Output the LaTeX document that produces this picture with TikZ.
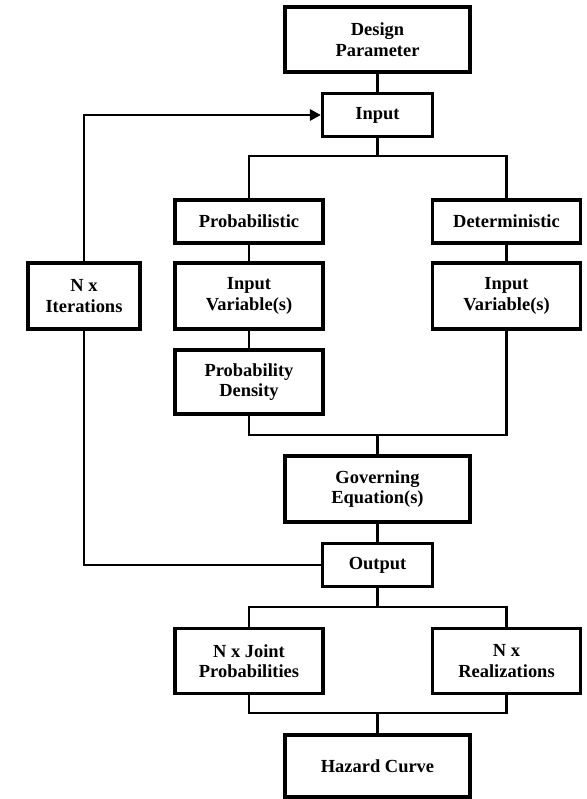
\documentclass[tikz,border=0pt]{standalone}
\usepackage{fontspec}
\setmainfont{Liberation Serif}
\usepackage{tikz}
\usetikzlibrary{arrows.meta}
\tikzset{
    every node/.style={align=center,font=\bfseries\fontsize{10.5}{11.7}\selectfont},
    block/.style={draw,rectangle,line width=1.8pt,inner sep=0pt,},
    big/.style={block,minimum width=3.7cm,minimum height=1.3cm,},
    mid/.style={block,minimum width=2.96cm,minimum height=1.3cm,},
    small/.style={block,minimum width=2.2cm,minimum height=0.87cm,},
    link/.style={line width=1.7pt,},
}

\begin{document}
\begin{tikzpicture}
                \useasboundingbox (0,0) rectangle (11.74,15.98);

                \node[big] (design) at (7.55, 15.19) {Design\\Parameter};
                \node[small] (input) at (7.55, 13.68) {Input};

                \node[mid, minimum height=0.86cm] (prob) at (4.98, 11.55) {Probabilistic};
                \node[mid, minimum height=0.86cm] (det) at (10.13, 11.55) {Deterministic};

                \node[small, minimum width=2.24cm, minimum height=1.32cm] (iter) at (1.68, 10.06) {N x\\Iterations};
                \node[mid, minimum height=1.32cm] (varprob) at (4.98, 10.06) {Input\\Variable(s)};
                \node[mid, minimum height=1.32cm] (vardet) at (10.13, 10.06) {Input\\Variable(s)};

                \node[mid, minimum height=1.28cm] (density) at (4.98, 8.34) {Probability\\Density};

                \node[big, minimum height=1.32cm] (govern) at (7.55, 6.2) {Governing\\Equation(s)};
                \node[small, minimum height=0.86cm] (output) at (7.55, 4.68) {Output};

                \node[mid] (joint) at (4.98, 2.76) {N x Joint\\Probabilities};
                \node[mid] (realiz) at (10.13, 2.76) {N x\\Realizations};

                \node[big, minimum height=1.24cm] (hazard) at (7.55, 0.66) {Hazard Curve};

                % branch and merge points
                \coordinate (split) at (7.55, 12.86);
                \coordinate (merge) at (7.55, 7.28);
                \coordinate (outsplit) at (7.55, 3.84);
                \coordinate (outmerge) at (7.55, 1.72);

                \draw[link] (design) to (input);
                \draw[link] (input) to (split);
                \draw[link] (prob.north) |- (split) -| (det.north);

                \draw[link] (prob) to (varprob);
                \draw[link] (varprob) to (density);
                \draw[link] (det) to (vardet);

                \draw[link] (density.south) |- (merge) -| (vardet.south);
                \draw[link] (merge) to (govern);
                \draw[link] (govern) to (output);

                % loop back to the input
                \draw[link] (output.west) -| (iter.south);
                \draw[link,-{Triangle[length=2.2mm,width=2.2mm]}] (iter.north) |- (input.west);

                \draw[link] (output) to (outsplit);
                \draw[link] (joint.north) |- (outsplit) -| (realiz.north);
                \draw[link] (joint.south) |- (outmerge) -| (realiz.south);
                \draw[link] (outmerge) to (hazard);
            \end{tikzpicture}
\end{document}
